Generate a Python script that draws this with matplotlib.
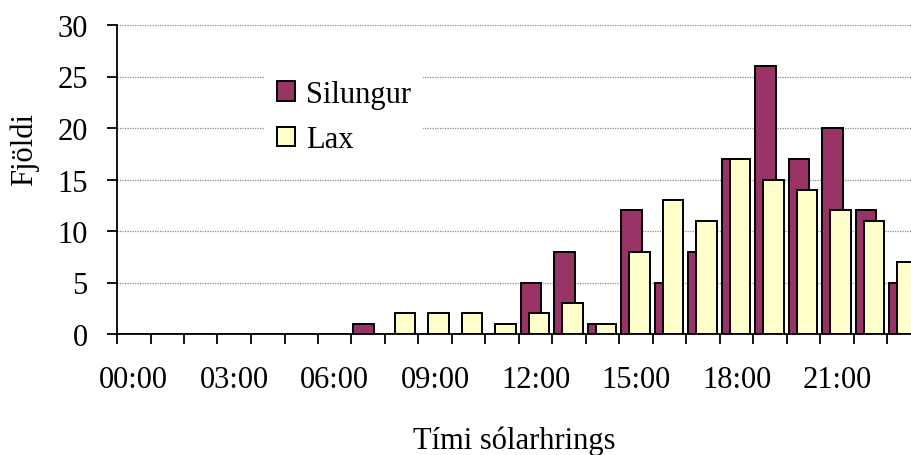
import numpy as np
import matplotlib.pyplot as plt

plt.rcParams['font.family'] = ['Liberation Serif', 'DejaVu Serif']

# fjöldi fiska eftir klukkustund sólarhrings
hours = np.arange(24)
silungur = [0, 0, 0, 0, 0, 0, 0, 1, 0, 0, 0, 0, 5, 8, 1, 12, 5, 8, 17, 26, 17, 20, 12, 5]
lax = [0, 0, 0, 0, 0, 0, 0, 0, 2, 2, 2, 1, 2, 3, 1, 8, 13, 11, 17, 15, 14, 12, 11, 7]
tick_hours = [0, 3, 6, 9, 12, 15, 18, 21]
tick_labels = ['00:00', '03:00', '06:00', '09:00', '12:00', '15:00', '18:00', '21:00']

fs = 22

fig = plt.figure(figsize=(9.11, 4.56), dpi=100)
ax = fig.add_axes([117 / 911, 121 / 456, 804 / 911, 309 / 456])

w = 0.62
x = hours + 0.5
ax.bar(x - 0.14, silungur, width=w, color='#993366', edgecolor='black',
       linewidth=1.4, label='Silungur', zorder=3)
ax.bar(x + 0.10, lax, width=w, color='#FFFFCC', edgecolor='black',
       linewidth=1.4, label='Lax', zorder=4)

ax.set_xlim(0, 24)
ax.set_ylim(0, 30)
ax.set_yticks(range(0, 31, 5))
ax.yaxis.grid(True, color='#8a8a8a', linestyle=(0, (1, 1)), linewidth=0.9, zorder=0)

# klukkustundamerki á mörkum flokka, textar í miðju
ax.set_xticks(np.arange(0, 25), minor=True)
ax.set_xticks(np.array(tick_hours) + 0.5)
ax.set_xticklabels(tick_labels)
ax.tick_params(axis='x', which='minor', direction='out', length=7, width=1.3, color='black')
ax.tick_params(axis='x', which='major', length=0, pad=22, labelsize=fs)
ax.tick_params(axis='y', direction='out', length=7, width=1.3, pad=14, labelsize=fs)

for side in ['top', 'right']:
    ax.spines[side].set_visible(False)
for side in ['left', 'bottom']:
    ax.spines[side].set_linewidth(1.3)
ax.spines['bottom'].set_zorder(5)

fig.text(24 / 911, 1 - 150 / 456, 'Fjöldi', rotation=90, ha='center', va='center', fontsize=fs)
fig.text(413 / 911, 1 - 449 / 456, 'Tími sólarhrings', ha='left', va='baseline', fontsize=fs)

leg = ax.legend(loc='upper left', bbox_to_anchor=(265 / 911, 1 - 69 / 456),
                bbox_transform=fig.transFigure, fontsize=fs, frameon=True,
                fancybox=False, framealpha=1, facecolor='white', edgecolor='none',
                handlelength=0.6, handleheight=0.6, handletextpad=0.36,
                labelspacing=0.55, borderpad=0.38, borderaxespad=0)
leg.set_zorder(6)

fig.savefig('out.png', dpi=100)
